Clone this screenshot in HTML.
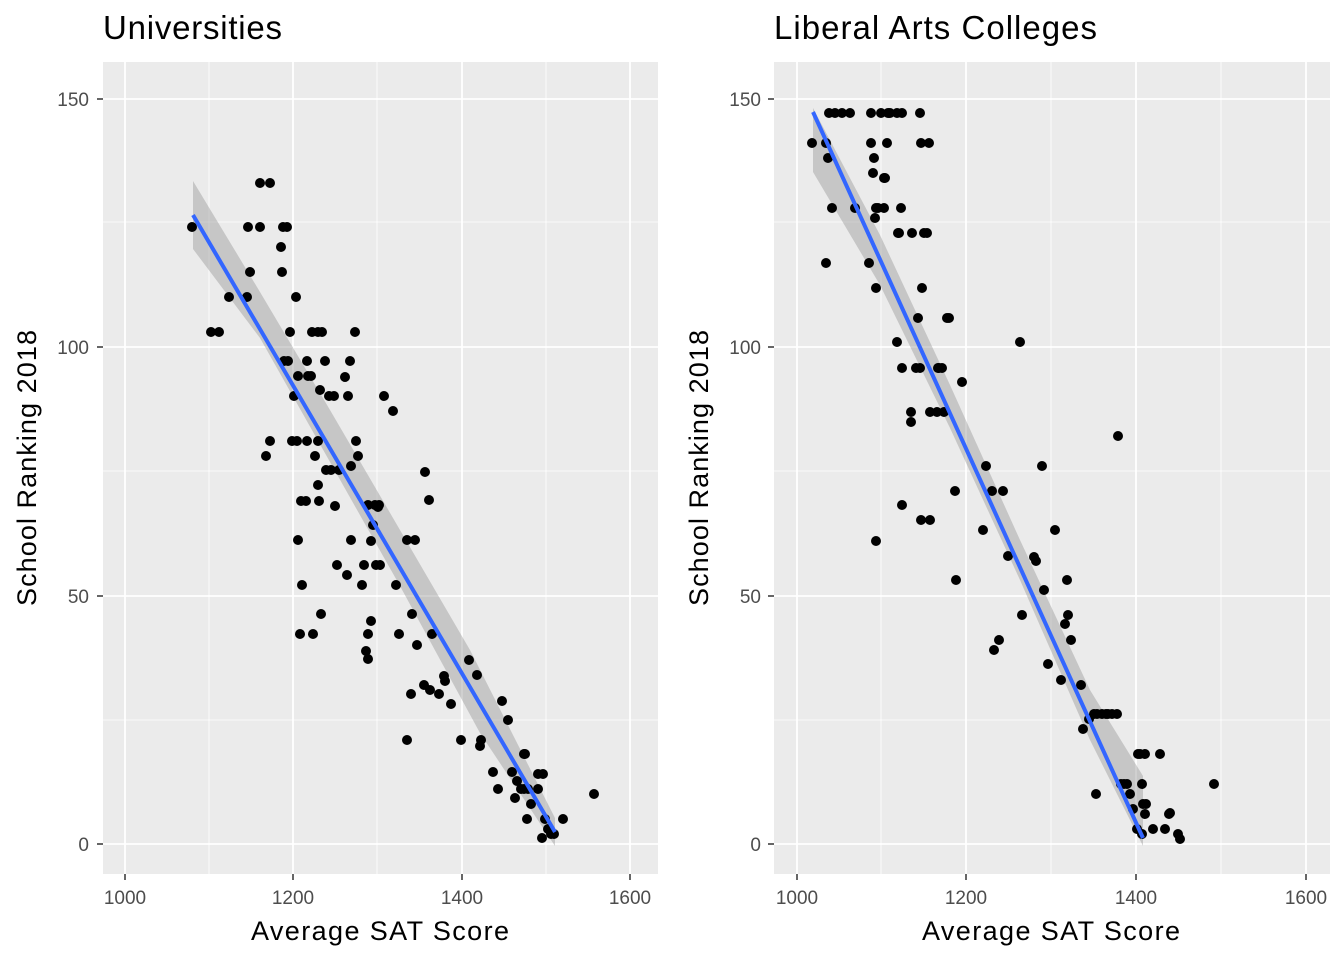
<!DOCTYPE html>
<html><head><meta charset="utf-8"><style>
body{margin:0;background:#fff}
svg text{font-family:"Liberation Sans",Arial,sans-serif}
</style></head><body>
<svg id="s" width="1344" height="960" xmlns="http://www.w3.org/2000/svg">
<g id="p1">
<rect x="103" y="62" width="555" height="812" fill="#ebebeb"/>
<g stroke="#fff" stroke-width="0.8">
<line x1="103" x2="658" y1="222" y2="222"/><line x1="103" x2="658" y1="471" y2="471"/><line x1="103" x2="658" y1="720" y2="720"/>
<line x1="209" x2="209" y1="62" y2="874"/><line x1="377" x2="377" y1="62" y2="874"/><line x1="546" x2="546" y1="62" y2="874"/>
</g>
<g stroke="#fff" stroke-width="1.8">
<line x1="103" x2="658" y1="99" y2="99"/><line x1="103" x2="658" y1="347" y2="347"/><line x1="103" x2="658" y1="596" y2="596"/><line x1="103" x2="658" y1="844" y2="844"/>
<line x1="125" x2="125" y1="62" y2="874"/><line x1="293" x2="293" y1="62" y2="874"/><line x1="462" x2="462" y1="62" y2="874"/><line x1="630" x2="630" y1="62" y2="874"/>
</g>
<g stroke="#333" stroke-width="1.5">
<line x1="97" x2="103" y1="99" y2="99"/><line x1="97" x2="103" y1="347" y2="347"/><line x1="97" x2="103" y1="596" y2="596"/><line x1="97" x2="103" y1="844" y2="844"/>
<line x1="125" x2="125" y1="874" y2="880"/><line x1="293" x2="293" y1="874" y2="880"/><line x1="462" x2="462" y1="874" y2="880"/><line x1="630" x2="630" y1="874" y2="880"/>
</g>
<polygon points="193,181 260,292 330,410 400,530 470,650 555,818 555,846 480,733 400,586 330,462 260,338 193,249" fill="#999" opacity="0.45"/>
<g id="d1"></g>
<line x1="193" y1="215" x2="555" y2="832" stroke="#3366ff" stroke-width="4"/>
<text x="103" y="39" font-size="33" fill="#000" textLength="179">Universities</text>
<g font-size="19" fill="#4d4d4d" text-anchor="end"><text x="89" y="106">150</text><text x="89" y="354">100</text><text x="89" y="603">50</text><text x="89" y="851">0</text></g>
<g font-size="19" fill="#4d4d4d" text-anchor="middle"><text x="125" y="904">1000</text><text x="293" y="904">1200</text><text x="462" y="904">1400</text><text x="630" y="904">1600</text></g>
<text x="380" y="940" font-size="27" text-anchor="middle" textLength="258">Average SAT Score</text>
<text transform="translate(36,468) rotate(-90)" font-size="27" text-anchor="middle" textLength="276">School Ranking 2018</text>
</g>
<g id="p2">
<rect x="774" y="62" width="556" height="812" fill="#ebebeb"/>
<g stroke="#fff" stroke-width="0.8">
<line x1="774" x2="1330" y1="222" y2="222"/><line x1="774" x2="1330" y1="471" y2="471"/><line x1="774" x2="1330" y1="720" y2="720"/>
<line x1="881" x2="881" y1="62" y2="874"/><line x1="1051" x2="1051" y1="62" y2="874"/><line x1="1221" x2="1221" y1="62" y2="874"/>
</g>
<g stroke="#fff" stroke-width="1.8">
<line x1="774" x2="1330" y1="99" y2="99"/><line x1="774" x2="1330" y1="347" y2="347"/><line x1="774" x2="1330" y1="596" y2="596"/><line x1="774" x2="1330" y1="844" y2="844"/>
<line x1="797" x2="797" y1="62" y2="874"/><line x1="966" x2="966" y1="62" y2="874"/><line x1="1136" x2="1136" y1="62" y2="874"/><line x1="1306" x2="1306" y1="62" y2="874"/>
</g>
<g stroke="#333" stroke-width="1.5">
<line x1="768" x2="774" y1="99" y2="99"/><line x1="768" x2="774" y1="347" y2="347"/><line x1="768" x2="774" y1="596" y2="596"/><line x1="768" x2="774" y1="844" y2="844"/>
<line x1="797" x2="797" y1="874" y2="880"/><line x1="966" x2="966" y1="874" y2="880"/><line x1="1136" x2="1136" y1="874" y2="880"/><line x1="1306" x2="1306" y1="874" y2="880"/>
</g>
<polygon points="813,108 880,235 950,385 1020,540 1090,690 1143,776 1143,846 1090,740 1020,580 950,428 880,285 813,172" fill="#999" opacity="0.45"/>
<g id="d2"></g>
<line x1="813" y1="112" x2="1143" y2="838" stroke="#3366ff" stroke-width="4"/>
<text x="774" y="39" font-size="33" fill="#000" textLength="323">Liberal Arts Colleges</text>
<g font-size="19" fill="#4d4d4d" text-anchor="end"><text x="761" y="106">150</text><text x="761" y="354">100</text><text x="761" y="603">50</text><text x="761" y="851">0</text></g>
<g font-size="19" fill="#4d4d4d" text-anchor="middle"><text x="797" y="904">1000</text><text x="966" y="904">1200</text><text x="1136" y="904">1400</text><text x="1306" y="904">1600</text></g>
<text x="1051" y="940" font-size="27" text-anchor="middle" textLength="258">Average SAT Score</text>
<text transform="translate(708,468) rotate(-90)" font-size="27" text-anchor="middle" textLength="276">School Ranking 2018</text>
</g>
</svg>
<script>
var a=[192,227,211,332,219,332,229,297,247,297,248,227,250,272,260,183,260,227,270,183,270,441,266,456,281,247,282,272,283,227,287,227,284,361,288,361,290,332,292,441,296,297,294,396,298,376,297,441,301,501,298,540,302,585,300,634,306,501,307,441,308,376,307,361,311,376,312,332,313,634,318,332,315,456,318,485,320,390,319,501,321,614,322,332,325,361,318,441,329,396,334,396,326,470,331,470,335,506,339,470,337,565,348,396,345,377,351,540,347,575,350,361,351,466,355,332,356,441,358,456,364,565,368,505,362,585,371,541,375,505,379,505,373,525,376,565,380,565,368,634,368,659,366,651,371,621,378,507,384,396,393,411,396,585,399,634,407,540,407,740,411,694,412,614,415,540,417,645,424,685,425,472,429,500,430,690,432,634,439,694,444,676,445,681,451,704,461,740,469,660,477,675,481,740,480,746,493,772,498,789,502,701,508,720,512,772,515,798,517,781,521,789,524,754,525,754,527,819,528,789,531,804,538,774,543,774,542,838,545,819,548,829,551,834,554,834,563,819,594,794,538,789,524,789];
var b=[812,143,826,143,829,113,835,113,842,113,850,113,828,158,832,208,826,263,871,113,881,113,890,113,888,113,902,113,897,113,920,113,871,143,887,143,874,158,873,173,876,208,875,218,869,263,878,208,884,208,855,208,876,288,884,178,898,233,912,233,899,233,901,208,885,178,921,143,929,143,924,233,927,233,922,288,918,318,947,318,920,368,897,342,902,368,916,368,939,368,911,412,911,422,930,412,937,412,944,412,938,368,942,368,921,520,930,520,902,505,876,541,949,318,962,382,955,491,956,580,986,466,992,491,1003,491,983,530,999,640,994,650,1008,556,1020,342,1022,615,1034,557,1036,561,1042,466,1044,590,1048,664,1055,530,1061,680,1067,580,1065,624,1068,615,1071,640,1081,685,1083,729,1089,719,1094,714,1096,794,1097,714,1102,714,1106,714,1108,714,1112,714,1117,714,1118,436,1121,784,1124,784,1127,784,1130,794,1133,809,1138,754,1140,754,1145,754,1142,784,1137,829,1143,804,1146,804,1153,829,1142,834,1145,814,1160,754,1169,814,1165,829,1178,834,1180,839,1214,784,1170,813];
function draw(arr,id){var g=document.getElementById(id),h='';for(var i=0;i<arr.length;i+=2)h+='<circle cx="'+arr[i]+'" cy="'+arr[i+1]+'" r="5" fill="#000"/>';g.innerHTML=h;}
draw(a,'d1');draw(b,'d2');
</script>
</body></html>
